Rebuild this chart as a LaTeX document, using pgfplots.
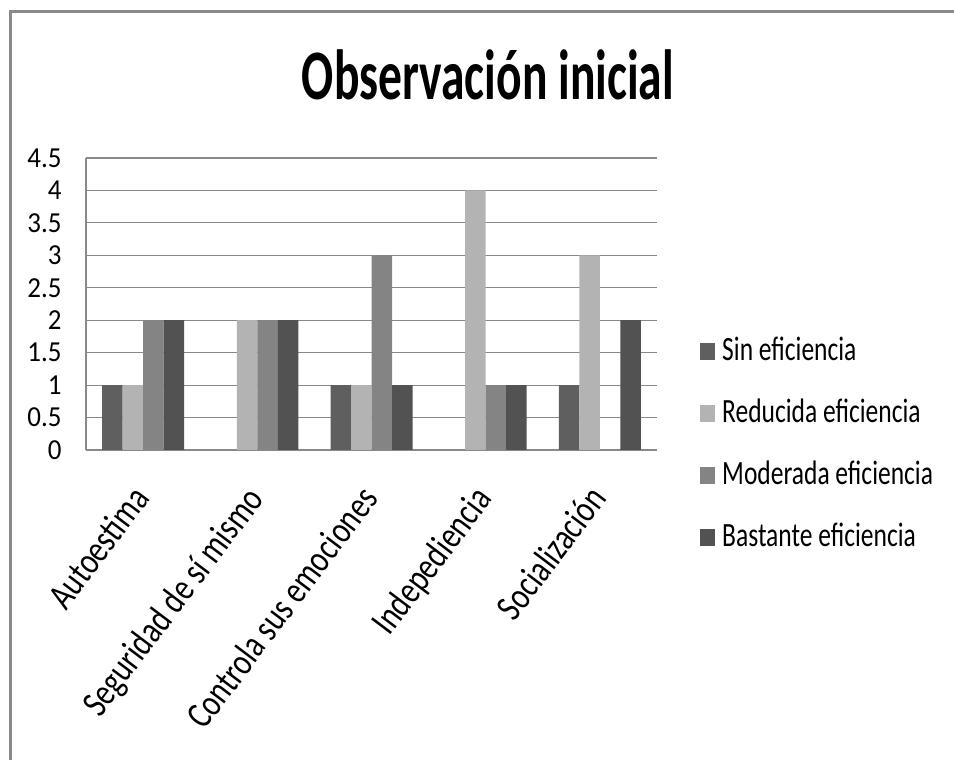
\documentclass[border=0pt]{standalone}
\usepackage{fontspec}
\usepackage{pgfplots}
\usepackage{pgfplotstable}
\pgfplotsset{compat=1.18}
\setmainfont{Carlito}
\newfontfamily\titlefont{Carlito}[FakeStretch=0.67]
\newfontfamily\legendfont{Carlito}[FakeStretch=0.75]
\newfontfamily\tickfont{Carlito}[FakeStretch=0.93]
\newfontfamily\catfont{Carlito}[FakeStretch=0.79]

\definecolor{sinc}{HTML}{5F5F5F}
\definecolor{redc}{HTML}{B3B3B3}
\definecolor{modc}{HTML}{848484}
\definecolor{basc}{HTML}{525252}
\definecolor{gridc}{HTML}{898989}

% observacion inicial: frecuencias por indicador
\pgfplotstableread{
x sin red mod bas
0 1 1 2 2
1 0 2 2 2
2 1 1 3 1
3 0 4 1 1
4 1 3 0 2
}\obs

\begin{document}
\begin{tikzpicture}
\useasboundingbox (0,0) rectangle (477bp,380bp);
\draw[gridc, line width=1.4bp] (5.2bp,0) -- (5.2bp,374.25bp) -- (477bp,374.25bp);
\begin{axis}[
    at={(43bp,155bp)}, anchor=south west,
    scale only axis, width=285.5bp, height=146bp,
    ybar=0pt, bar width=10.25bp,
    xmin=-0.5, xmax=4.5, ymin=0, ymax=4.5,
    xtick={0,1,2,3,4},
    xticklabels={Autoestima, Seguridad de sí mismo, Controla sus emociones, Indepediencia, Socialización},
    ytick={0,0.5,1,1.5,2,2.5,3,3.5,4,4.5},
    yticklabels={0,0.5,1,1.5,2,2.5,3,3.5,4,4.5},
    axis x line*=bottom, axis y line*=left,
    axis line style={gridc, line width=0.6bp, -},
    ymajorgrids, major grid style={gridc, line width=0.6bp},
    major tick length=0pt,
    yticklabel style={font=\tickfont\fontsize{14.5bp}{16bp}\selectfont, anchor=east, inner sep=0pt, xshift=-12bp},
    xticklabel style={font=\catfont\fontsize{19bp}{21bp}\selectfont, xshift=4bp, yshift=-24.5bp, rotate=53, anchor=base east, inner sep=0pt},
    title={\bfseries Observación inicial},
    title style={font=\titlefont\fontsize{35.5bp}{40bp}\selectfont, at={(axis description cs:0.704,1.16)}, anchor=base, inner sep=0pt},
    legend cell align=left,
    legend style={at={(axis description cs:1.075,0.019)}, anchor=west, draw=none, fill=none,
        font=\legendfont\fontsize{17bp}{19bp}\selectfont, inner sep=0pt, row sep=16bp,
        nodes={inner sep=0pt, text height=12bp, text depth=3bp},
        /tikz/every odd column/.append style={column sep=3.5bp}},
    legend image code/.code={\fill[#1] (0bp,-4.25bp) rectangle (7.5bp,4.25bp);},
]
\addplot[fill=sinc, draw=none] table[x=x, y=sin] {\obs};
\addplot[fill=redc, draw=none] table[x=x, y=red] {\obs};
\addplot[fill=modc, draw=none] table[x=x, y=mod] {\obs};
\addplot[fill=basc, draw=none] table[x=x, y=bas] {\obs};
\legend{Sin eficiencia, Reducida eficiencia, Moderada eficiencia, Bastante eficiencia}
\end{axis}
\end{tikzpicture}
\end{document}
